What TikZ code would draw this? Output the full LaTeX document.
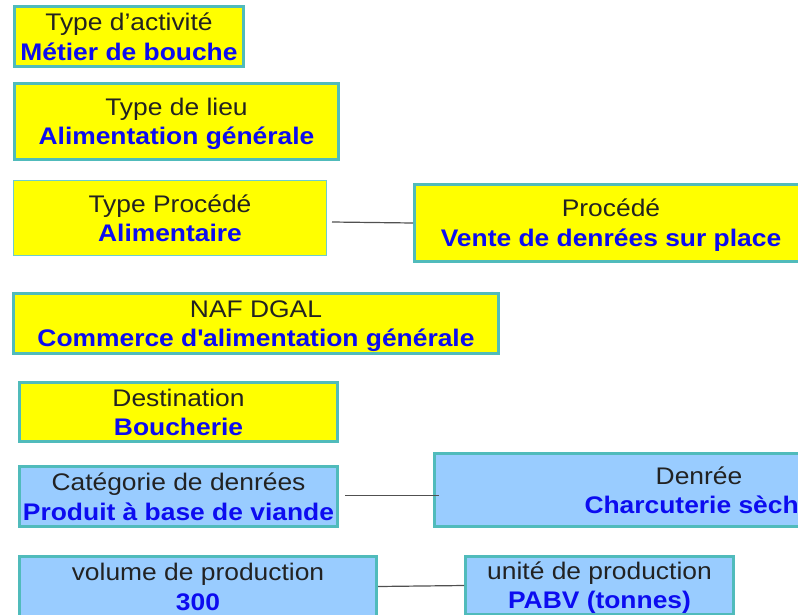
\documentclass[tikz,border=0pt]{standalone}
\usepackage{fontspec}
\setmainfont{Liberation Sans}[FakeStretch=1.1]
\definecolor{teal1}{RGB}{80,187,187}
\definecolor{teal2}{RGB}{110,205,205}
\definecolor{yel}{RGB}{255,255,0}
\definecolor{lblue}{RGB}{153,204,255}
\definecolor{vblue}{RGB}{12,12,240}
\definecolor{txtgray}{RGB}{34,34,34}
\definecolor{lgray}{RGB}{80,80,80}
\newcommand\st{\rule[-4.5pt]{0pt}{26.5pt}}
\newcommand\vv[1]{\textcolor{vblue}{\bfseries #1}}
\tikzset{
  box/.style={rectangle, draw=teal1, line width=3pt, inner sep=0pt, align=center,
    font=\fontsize{24}{29.5}\selectfont, text=txtgray},
  ybox/.style={box, fill=yel},
  bbox/.style={box, fill=lblue},
  conn/.style={draw=lgray, line width=1.2pt}
}
\begin{document}
\begin{tikzpicture}[x=1pt,y=-1pt]
\useasboundingbox (0,0) rectangle (798,614);
\clip (0,0) rectangle (798,614);
\node[ybox, minimum width=229pt, minimum height=60pt] (act) at (129,36.5)
  {\st Type d’activité\\\st\vv{Métier de bouche}};
\node[ybox, minimum width=324pt, minimum height=76pt] (lieu) at (176.5,121.5)
  {\st Type de lieu\\\st\vv{Alimentation générale}};
\node[ybox, draw=teal2, line width=1pt, minimum width=313pt, minimum height=75pt] (tp) at (170,218)
  {\st Type Procédé\\\st\vv{Alimentaire}};
\node[ybox, minimum width=393pt, minimum height=77pt] (proc) at (611,223)
  {\st Procédé\\\st\vv{Vente de denrées sur place}};
\node[ybox, minimum width=485pt, minimum height=60pt] (naf) at (256,323.5)
  {\st NAF DGAL\\\st\vv{Commerce d\textquotesingle alimentation générale}};
\node[ybox, minimum width=318pt, minimum height=59pt] (dest) at (178.5,412)
  {\st Destination\\\st\vv{Boucherie}};
\node[bbox, minimum width=318pt, minimum height=60pt] (cat) at (178.5,496.5)
  {\st Catégorie de denrées\\\st\vv{Produit à base de viande}};
\node[bbox, minimum width=529pt, minimum height=73pt] (den) at (699,490)
  {\st Denrée\\\st\vv{Charcuterie sèche}};
\node[bbox, minimum width=357pt, minimum height=60pt] (vol) at (198,586.5)
  {\st volume de production\\\st\vv{300}};
\node[bbox, minimum width=268pt, minimum height=58pt] (unit) at (599.5,585.5)
  {\st unité de production\\\st\vv{PABV (tonnes)}};
\draw[conn] ([xshift=5pt,yshift=-4pt]tp.east) -- (proc.west);
\draw[conn] ([xshift=6pt,yshift=1pt]cat.east) -- ([xshift=6pt,yshift=1pt]cat.east -| den.west);
\draw[conn] (vol.east) -- (unit.west);
\end{tikzpicture}
\end{document}
